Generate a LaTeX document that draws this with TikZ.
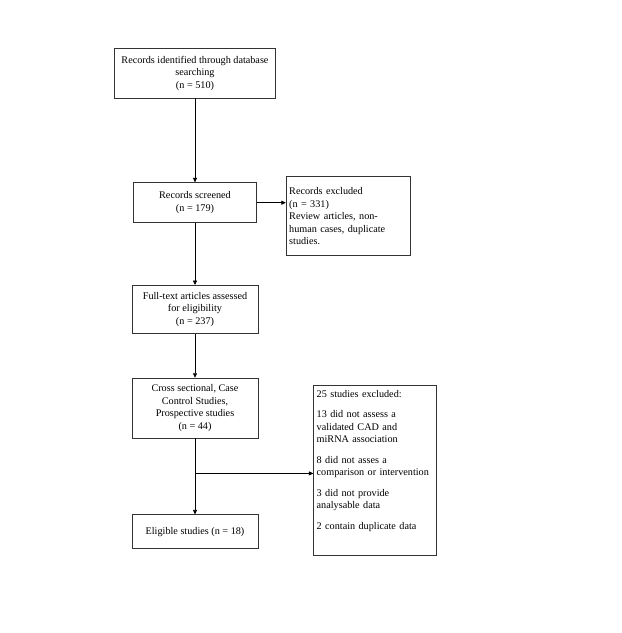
\documentclass[tikz,border=0pt]{standalone}
\usepackage{fontspec}
\setmainfont{Liberation Serif}
\usepackage{tikz}
\usetikzlibrary{positioning, calc, arrows.meta}

\tikzset{
  box/.style={draw=black!80, line width=0.7pt, align=center, inner sep=3pt,
    font=\fontsize{10.2}{12.5}\selectfont},
  exbox/.style={box, align=left, anchor=north west},
}

\begin{document}
\begin{tikzpicture}[x=1pt, y=1pt, >={Triangle[length=4.5pt,width=4pt]}, line width=0.7pt]
  \useasboundingbox (0,0) rectangle (622,-633);

  \node[box, minimum width=161pt, minimum height=50pt] (ident) at (195,-73)
    {Records identified through database\\searching\\(n = 510)};
  \node[box, below=84pt of ident, minimum width=123pt, minimum height=40pt] (screen)
    {Records screened\\(n = 179)};
  \node[exbox, text width=118pt, minimum height=79pt] (excl) at ($(screen.north east)+(29,6)$)
    {Records excluded\\(n = 331)\\Review articles, non-\\human cases, duplicate\\studies.};
  \node[box, below=62pt of screen, minimum width=126pt, minimum height=48pt] (full)
    {Full-text articles assessed\\for eligibility\\(n = 237)};
  \node[box, below=44pt of full, minimum width=126pt, minimum height=60pt] (cross)
    {Cross sectional, Case\\Control Studies,\\Prospective studies\\(n = 44)};
  \node[box, below=76pt of cross, minimum width=126pt, minimum height=34pt] (elig)
    {Eligible studies (n = 18)};
  \node[exbox, text width=117pt, inner ysep=5pt] (studex) at ($(cross.north east)+(55,-7)$)
    {25 studies excluded:\\[8pt]
     13 did not assess a\\validated CAD and\\miRNA association\\[8pt]
     8 did not asses a\\comparison or intervention\\[8pt]
     3 did not provide\\analysable data\\[8pt]
     2 contain duplicate data\\[9pt]\mbox{}};

  % arrows
  \draw[->] (ident) -- (screen);
  \draw[->] (screen.east) -- (screen.east -| excl.west);
  \draw[->] (screen) -- (full);
  \draw[->] (full) -- (cross);
  \draw[->] (cross) -- (elig);
  \coordinate (split) at ($(cross.south)!0.46!(elig.north)$);
  \draw[->] (split) -- (split -| studex.west);
\end{tikzpicture}
\end{document}
